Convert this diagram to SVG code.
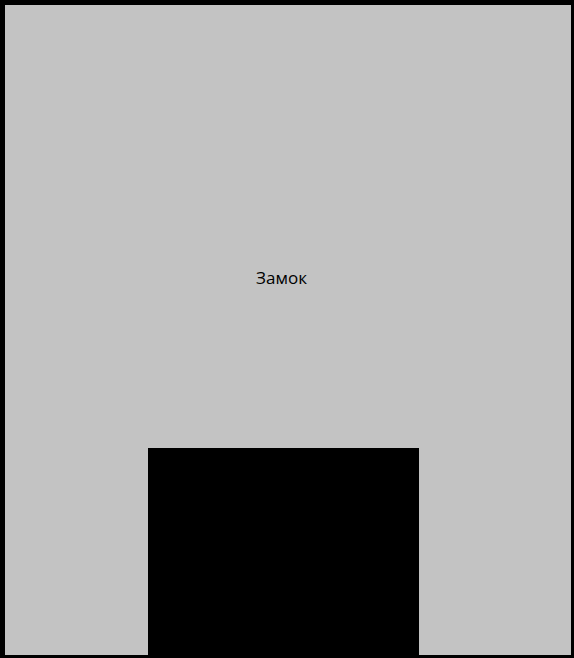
<svg xmlns="http://www.w3.org/2000/svg" width="574" height="658" viewBox="0 0 574 658">
<style>
.lbl{font-family:"Open Sans","Noto Sans","Liberation Sans",sans-serif;font-size:17px;fill:#000}
</style>
<g id="castle">
<rect x="0" y="0" width="574" height="658" fill="#000"/>
<rect x="5" y="5" width="566" height="650" fill="#c3c3c3"/>
<text class="lbl" x="281.5" y="283.5" text-anchor="middle">Замок</text>
</g>
<g id="gate">
<rect x="148" y="448" width="271" height="210" fill="#000"/>
</g>
</svg>
